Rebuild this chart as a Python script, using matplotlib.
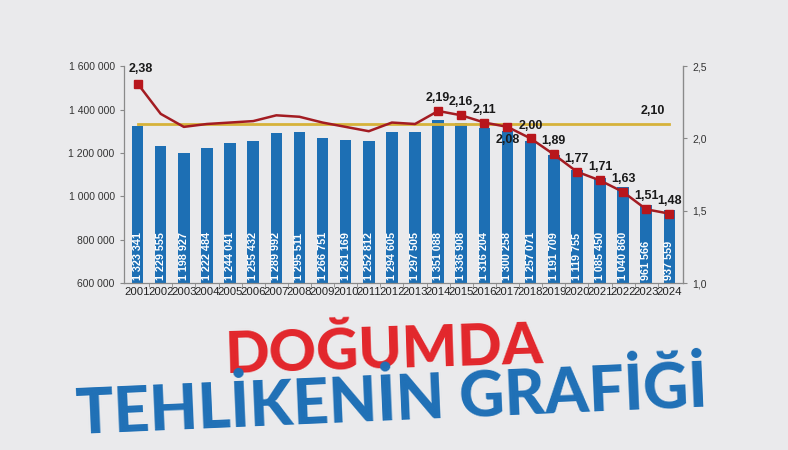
import matplotlib
matplotlib.use("Agg")
import matplotlib.pyplot as plt
import numpy as np
from matplotlib.ticker import MultipleLocator, FixedLocator, FuncFormatter

plt.rcParams['font.family'] = ['Liberation Sans', 'DejaVu Sans']

years = list(range(2001, 2025))
births = [1323341, 1229555, 1198927, 1222484, 1244041, 1255432, 1289992, 1295511,
          1266751, 1261169, 1252812, 1294605, 1297505, 1351088, 1336908, 1316204,
          1300258, 1257071, 1191709, 1119755, 1085450, 1040860, 961566, 937559]
fertility = [2.38, 2.17, 2.08, 2.10, 2.11, 2.12, 2.16, 2.15, 2.11, 2.08, 2.05, 2.11,
             2.10, 2.19, 2.16, 2.11, 2.08, 2.00, 1.89, 1.77, 1.71, 1.63, 1.51, 1.48]
labelled = [2001] + list(range(2014, 2025))
replacement = 2.10

BLUE = '#1d6fb4'
RED_LINE = '#a31c22'
RED_MARK = '#b8161c'
GOLD = '#d6b23a'

def tr_num(v):
    return f"{v:,}".replace(",", " ")

def tr_dec(v, n=2):
    return f"{v:.{n}f}".replace('.', ',')

fig = plt.figure(figsize=(7.88, 4.5), dpi=100)
fig.patch.set_facecolor('#eaeaec')

ax = fig.add_axes([0.157, 0.371, 0.710, 0.482])
ax.set_facecolor('none')
x = np.arange(len(years))

# bars - births
ax.bar(x, births, width=0.5, color=BLUE, zorder=2)
for xi, b in zip(x, births):
    ax.text(xi, 612000, tr_num(b), rotation=90, ha='center', va='bottom',
            color='white', fontsize=7.8, fontweight='bold', zorder=3)

ax.set_ylim(600000, 1600000)
ax.set_xlim(-0.6, 23.6)
ax.yaxis.set_major_locator(MultipleLocator(200000))
ax.yaxis.set_major_formatter(FuncFormatter(lambda v, p: tr_num(int(v))))
ax.set_xticks(x)
ax.set_xticklabels([str(y) for y in years], fontsize=8.2, color='#222222')
ax.xaxis.set_minor_locator(FixedLocator(x[:-1] + 0.5))
ax.tick_params(axis='x', which='major', length=0, pad=3)
ax.tick_params(axis='x', which='minor', length=3, color='#888888')
ax.tick_params(axis='y', labelsize=7.5, labelcolor='#333333', length=3, color='#888888')
ax.spines['top'].set_visible(False)
for s in ['left', 'bottom', 'right']:
    ax.spines[s].set_color('#8a8a8a')
    ax.spines[s].set_linewidth(0.9)

# fertility rate on right axis
ax2 = ax.twinx()
ax2.set_ylim(1.0, 2.5)
ax2.yaxis.set_major_locator(MultipleLocator(0.5))
ax2.yaxis.set_major_formatter(FuncFormatter(lambda v, p: tr_dec(v, 1)))
ax2.tick_params(axis='y', labelsize=7.5, labelcolor='#333333', length=3, color='#888888')
ax2.spines['top'].set_visible(False)
ax2.spines['right'].set_color('#8a8a8a')
ax2.spines['left'].set_visible(False)
ax2.spines['bottom'].set_visible(False)

ax2.plot([x[0], x[-1]], [replacement, replacement], color=GOLD, lw=2.0, zorder=3)
ax2.plot(x, fertility, color=RED_LINE, lw=1.8, zorder=4)
idx = [years.index(y) for y in labelled]
ax2.plot(x[idx], [fertility[i] for i in idx], 's', color=RED_MARK, ms=6, zorder=5)

for i in idx:
    y = years[i]
    if y == 2017:
        off, va = (0, -5), 'top'
    elif y == 2001:
        off, va = (2, 6), 'bottom'
    else:
        off, va = (0, 5), 'bottom'
    ax2.annotate(tr_dec(fertility[i]), (x[i], fertility[i]), xytext=off,
                 textcoords='offset points', ha='center', va=va,
                 fontsize=9, fontweight='bold', color='#1a1a1a')
ax2.annotate(tr_dec(replacement), (x[-2] + 0.3, replacement), xytext=(0, 5),
             textcoords='offset points', ha='center', va='bottom',
             fontsize=9, fontweight='bold', color='#1a1a1a')

# headline
fig.text(0.488, 0.218, "DOĞUMDA", ha='center', va='center', rotation=1.8,
         fontsize=42, fontweight='black', family=['Lato', 'DejaVu Sans'], color='#e2262b')
fig.text(0.497, 0.108, "TEHLİKENİN GRAFİĞİ", ha='center', va='center', rotation=2.5,
         fontsize=45, fontweight='black', family=['Lato', 'DejaVu Sans'], color='#1f70b6')

fig.savefig('out.png', dpi=100, facecolor=fig.get_facecolor())
